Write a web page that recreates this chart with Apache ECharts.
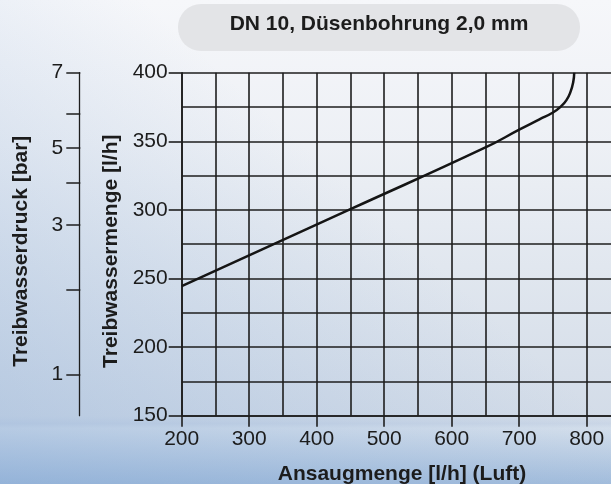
<!DOCTYPE html>
<html>
<head>
<meta charset="utf-8">
<script src="https://cdn.jsdelivr.net/npm/echarts@6/dist/echarts.min.js"></script>
<style>
  html, body { margin: 0; padding: 0; }
  #chart { width: 611px; height: 484px; }
</style>
</head>
<body>
<div id="chart"></div>
<script>
// Kennlinie: Ansaugmenge (Luft) gegen Treibwassermenge
var airFlow = [200, 450, 650, 700, 730, 750, 762, 770, 776, 780, 781.5];
var waterFlow = [244.5, 300.5, 345.5, 358.5, 366, 371, 375.5, 380, 386, 393, 400];

// Druckskala links (bar) und ihre Lage auf der Mengenachse
var pressureBar = [1, 2, 3, 4, 5, 6, 7];
var pressureAtFlow = [180, 242, 289, 320, 345, 370, 400];
var pressureLabeled = [1, 3, 5, 7];

var titleText = 'DN 10, Düsenbohrung 2,0 mm';
var font = '"Liberation Sans", Arial, sans-serif';

var chart = echarts.init(document.getElementById('chart'), null, { renderer: 'canvas' });

var curve = airFlow.map(function (x, i) { return [x, waterFlow[i]]; });
var labeledFlow = pressureLabeled.map(function (p) {
    return pressureAtFlow[pressureBar.indexOf(p)];
});

var gridLine = { color: '#1e1e1e', width: 1.6 };
var nameStyle = { fontFamily: font, fontWeight: 'bold', fontSize: 21, color: '#1c1c1c' };

var option = {
    animation: false,
    backgroundColor: {
        type: 'linear', x: 0, y: 0, x2: 0, y2: 1,
        colorStops: [
            { offset: 0, color: '#f6f7fa' },
            { offset: 0.3, color: '#edf0f5' },
            { offset: 0.55, color: '#e1e7ef' },
            { offset: 0.86, color: '#d3dce8' },
            { offset: 0.875, color: '#cad6e6' },
            { offset: 0.885, color: '#d3deeb' },
            { offset: 1, color: '#a3bddc' }
        ]
    },
    graphic: [
        {
            type: 'rect', left: 0, top: 0, z: -10, silent: true,
            shape: { width: 611, height: 484 },
            style: {
                fill: {
                    type: 'linear', x: 0, y: 1, x2: 0.5, y2: 0.3,
                    colorStops: [
                        { offset: 0, color: 'rgba(120,160,210,0.35)' },
                        { offset: 1, color: 'rgba(120,160,210,0)' }
                    ]
                }
            }
        },
        {
            type: 'rect', left: 178, top: 4,
            shape: { width: 402, height: 47, r: 23 },
            style: { fill: '#e3e4e7' }
        },
        {
            type: 'text', x: 379, y: 24,
            style: {
                text: titleText, fill: '#1c1c1c',
                font: 'bold 21px ' + font,
                align: 'center', verticalAlign: 'middle'
            }
        }
    ],
    grid: [
        { left: 181.7, top: 72.7, bottom: 68.3, width: 472.5, outerBoundsMode: 'none', containLabel: false },
        { left: 79.3, top: 72.7, bottom: 68.3, width: 1, outerBoundsMode: 'none', containLabel: false }
    ],
    xAxis: [
        {
            gridIndex: 0,
            type: 'value',
            min: 200, max: 900, interval: 100,
            name: 'Ansaugmenge [l/h] (Luft)',
            nameLocation: 'middle', nameGap: 48,
            nameTextStyle: Object.assign({ padding: [0, 32, 0, 0] }, nameStyle),
            axisLine: { show: true, lineStyle: gridLine },
            axisTick: { show: true, length: 11, lineStyle: gridLine },
            axisLabel: { fontFamily: font, fontSize: 21, color: '#1c1c1c', margin: 13, showMaxLabel: false },
            splitLine: { show: true, lineStyle: gridLine },
            minorTick: { show: false, splitNumber: 2 },
            minorSplitLine: { show: true, lineStyle: gridLine }
        },
        { gridIndex: 1, type: 'value', min: 0, max: 1, show: false }
    ],
    yAxis: [
        {
            gridIndex: 0,
            type: 'value',
            min: 150, max: 400, interval: 50,
            name: 'Treibwassermenge [l/h]',
            nameLocation: 'middle', nameGap: 60,
            nameTextStyle: Object.assign({ padding: [0, 14, 0, 0] }, nameStyle),
            axisLine: { show: true, lineStyle: gridLine },
            axisTick: { show: true, length: 13, lineStyle: gridLine },
            axisLabel: { fontFamily: font, fontSize: 21, color: '#1c1c1c', margin: 14 },
            splitLine: { show: true, lineStyle: gridLine },
            minorTick: { show: false, splitNumber: 2 },
            minorSplitLine: { show: true, lineStyle: gridLine }
        },
        {
            gridIndex: 1,
            type: 'value',
            min: 150, max: 400,
            name: 'Treibwasserdruck [bar]',
            nameLocation: 'middle', nameGap: 48,
            nameTextStyle: Object.assign({ padding: [0, 14, 0, 0] }, nameStyle),
            axisLine: { show: true, lineStyle: { color: '#1e1e1e', width: 1.3 } },
            axisTick: {
                show: true, length: 13, customValues: pressureAtFlow,
                lineStyle: { color: '#1e1e1e', width: 1.5 }
            },
            axisLabel: {
                fontFamily: font, fontSize: 21, color: '#1c1c1c', margin: 16,
                customValues: labeledFlow,
                formatter: function (v) {
                    return String(pressureBar[pressureAtFlow.indexOf(v)]);
                }
            },
            splitLine: { show: false }
        },
        {
            gridIndex: 1,
            type: 'value',
            min: 150, max: 400,
            axisLine: { show: false },
            axisTick: {
                show: true, inside: true, length: 14, customValues: pressureAtFlow,
                lineStyle: { color: '#1e1e1e', width: 1.5 }
            },
            axisLabel: { show: false },
            splitLine: { show: false }
        }
    ],
    series: [{
        type: 'line',
        xAxisIndex: 0,
        yAxisIndex: 0,
        data: curve,
        showSymbol: false,
        smooth: 0.5,
        lineStyle: { color: '#151515', width: 2.5 },
        z: 5
    }]
};

chart.setOption(option);
</script>
</body>
</html>
